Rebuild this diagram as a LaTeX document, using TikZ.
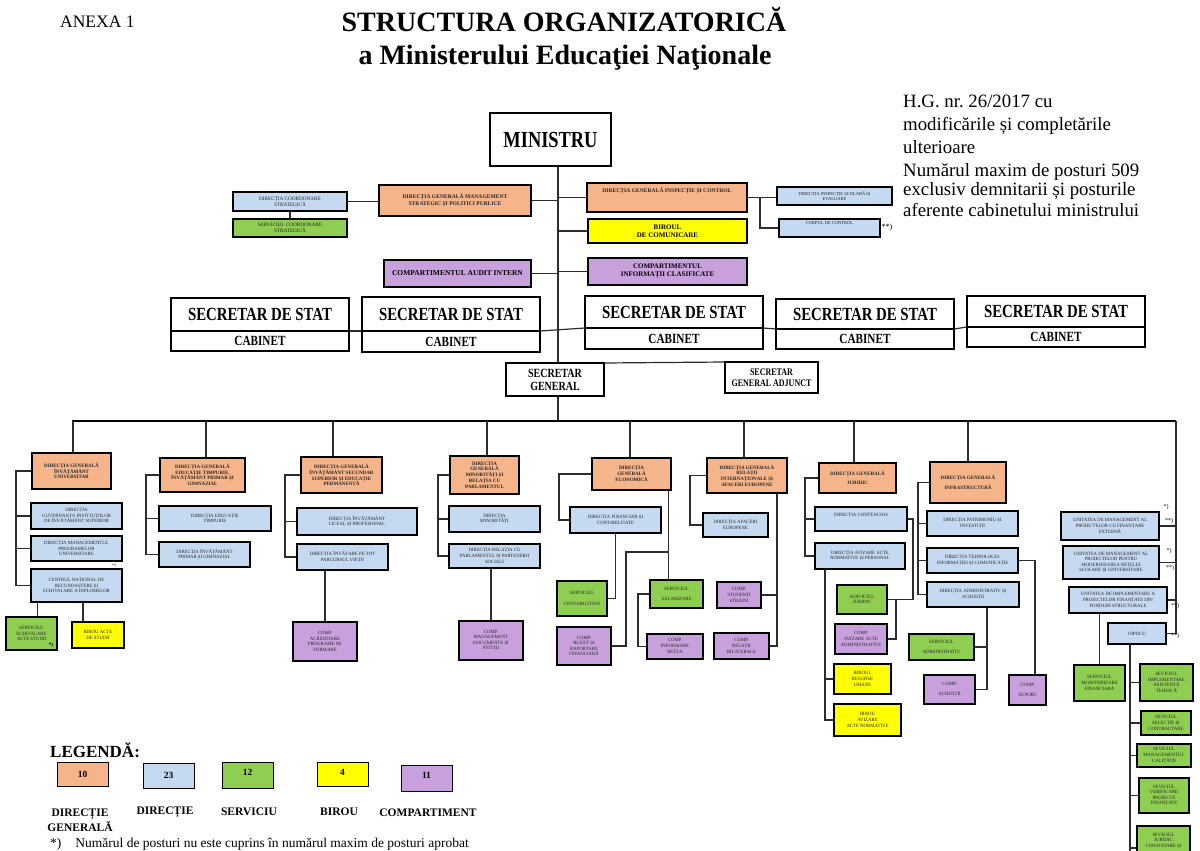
\documentclass[tikz,border=0pt]{standalone}
\usepackage{fontspec}
\setmainfont{Liberation Serif}
\newfontfamily\condf[FakeStretch=0.8]{Liberation Serif}
\usetikzlibrary{backgrounds}
\definecolor{cOr}{RGB}{246,180,138}
\definecolor{cBl}{RGB}{197,217,240}
\definecolor{cGr}{RGB}{142,206,80}
\definecolor{cYe}{RGB}{255,255,0}
\definecolor{cPu}{RGB}{200,160,222}
\definecolor{cLn}{RGB}{45,45,45}
\newcommand\mkbox[7]{\node[#2, minimum width={(#5-#3)*1pt}, minimum height={(#6-#4)*1pt}] (#1) at ({(#3+#5)/2},{(#4+#6)/2}) {#7};}
\tikzset{
 bx/.style={draw=black, line width=1.4pt, inner sep=0pt, outer sep=0pt, align=center, text=black!85},
 dg/.style={bx, fill=cOr, font=\fontsize{5}{5.7}\selectfont\bfseries},
 dgt/.style={bx, fill=cOr, font=\fontsize{5.6}{6.6}\selectfont\bfseries},
 dir/.style={bx, fill=cBl, font=\fontsize{4.8}{5.6}\selectfont},
 dirt/.style={bx, fill=cBl, font=\fontsize{5.2}{6}\selectfont},
 dirs/.style={bx, fill=cBl, font=\fontsize{4.5}{5.3}\selectfont},
 srv/.style={bx, fill=cGr, font=\fontsize{4.8}{5.6}\selectfont},
 srvt/.style={bx, fill=cGr, font=\fontsize{5.2}{6}\selectfont},
 bir/.style={bx, fill=cYe, font=\fontsize{4.8}{5.6}\selectfont},
 birt/.style={bx, fill=cYe, font=\fontsize{7}{8}\selectfont\bfseries, text=black},
 cmp/.style={bx, fill=cPu, font=\fontsize{4.8}{5.6}\selectfont},
 cmpt/.style={bx, fill=cPu, font=\fontsize{7}{8}\selectfont\bfseries, text=black},
 cmpa/.style={bx, fill=cPu, font=\fontsize{7.5}{8}\selectfont\bfseries, text=black},
 minb/.style={bx, line width=2.6pt, fill=white, text=black, font=\condf\bfseries\fontsize{23}{24}\selectfont},
 ssb/.style={bx, line width=1.8pt, fill=white, text=black, font=\condf\bfseries\fontsize{18.5}{19}\selectfont},
 cbb/.style={bx, line width=1.8pt, fill=white, text=black, font=\condf\bfseries\fontsize{14}{14}\selectfont},
 sgb/.style={bx, line width=1.5pt, fill=white, text=black, font=\condf\bfseries\fontsize{12.5}{13}\selectfont},
 sgab/.style={bx, line width=1.5pt, fill=white, text=black, font=\condf\bfseries\fontsize{10}{10.5}\selectfont},
 lgb/.style={bx, line width=1pt, text=black, font=\bfseries\fontsize{9.5}{10}\selectfont},
 lgl/.style={inner sep=0pt, align=center, font=\bfseries\fontsize{11.5}{15}\selectfont},
 mk/.style={inner sep=0pt, font=\fontsize{6}{6}\selectfont},
 ln/.style={draw=cLn, line width=1.2pt},
 bus/.style={draw=black, line width=1.8pt},
}
\begin{document}
\begin{tikzpicture}[x=1pt,y=-1pt]
\useasboundingbox (0,0) rectangle (1200,851);
% ---------- titles ----------
\node[anchor=base west, inner sep=0pt, font=\fontsize{17.5}{18}\selectfont] (anexa) at (60,28) {ANEXA 1};
\node[anchor=base, inner sep=0pt, font=\bfseries\fontsize{28}{30}\selectfont] (title1) at (564,32) {STRUCTURA ORGANIZATORICĂ};
\node[anchor=base, inner sep=0pt, font=\bfseries\fontsize{28}{30}\selectfont] (title2) at (565,65) {a Ministerului Educaţiei Naţionale};
\foreach \nm/\yy/\tx in {n1/107/{H.G. nr.\ 26/2017 cu}, n2/130/{modificările și completările}, n3/153/{ulterioare}, n4/176/{Numărul maxim de posturi 509}, n5/195/{exclusiv demnitarii și posturile}, n6/216/{aferente cabinetului ministrului}}
  \node[anchor=base west, inner sep=0pt, font=\fontsize{18.8}{20}\selectfont] (\nm) at (903,\yy) {\tx};
% ---------- top boxes ----------
\mkbox{min}{minb}{490}{113}{611}{166}{MINISTRU}
\mkbox{dgmspp}{dgt}{379}{185}{531}{216}{DIRECȚIA GENERALĂ MANAGEMENT\\STRATEGIC ȘI POLITICI PUBLICE}
\mkbox{dcs}{dirt}{233}{192}{347}{211}{DIRECȚIA COORDONARE\\STRATEGICĂ}
\mkbox{scs}{srvt}{233}{219}{347}{237}{SERVICIUL COORDONARE\\STRATEGICĂ}
\mkbox{dgic}{dgt}{587}{183}{747}{212}{DIRECȚIA GENERALĂ INSPECȚIE ȘI CONTROL\\[8pt]\mbox{}}
\mkbox{dise}{dirs}{777}{187}{892}{205}{DIRECȚIA INSPECȚIE ȘCOLARĂ ȘI\\EVALUARE}
\mkbox{corp}{dirs}{779}{219}{880}{237}{CORPUL DE CONTROL\\[5pt]\mbox{}}
\node[mk, font=\fontsize{8}{8}\selectfont] (mcorp) at (887,228) {**)};
\mkbox{bcom}{birt}{588}{219}{747}{243}{BIROUL\\DE COMUNICARE}
\mkbox{cic}{cmpt}{588}{258}{747}{285}{COMPARTIMENTUL\\INFORMAȚII CLASIFICATE}
\mkbox{cai}{cmpa}{384}{260}{531}{287}{COMPARTIMENTUL AUDIT INTERN}
% ---------- secretari de stat ----------
\mkbox{ss1}{ssb}{171}{298}{349}{331}{SECRETAR DE STAT}
\mkbox{cb1}{cbb}{171}{331}{349}{351}{CABINET}
\mkbox{ss2}{ssb}{362}{297}{540}{331}{SECRETAR DE STAT}
\mkbox{cb2}{cbb}{362}{331}{540}{352}{CABINET}
\mkbox{ss3}{ssb}{585}{296}{763}{328}{SECRETAR DE STAT}
\mkbox{cb3}{cbb}{585}{328}{763}{349}{CABINET}
\mkbox{ss4}{ssb}{776}{299}{954}{329}{SECRETAR DE STAT}
\mkbox{cb4}{cbb}{776}{329}{954}{349}{CABINET}
\mkbox{ss5}{ssb}{967}{296}{1145}{327}{SECRETAR DE STAT}
\mkbox{cb5}{cbb}{967}{327}{1145}{347}{CABINET}
\mkbox{sg}{sgb}{506}{363}{604}{396}{SECRETAR\\GENERAL}
\mkbox{sga}{sgab}{725}{362}{818}{393}{SECRETAR\\GENERAL ADJUNCT}
% ---------- directii generale ----------
\mkbox{dgiu}{dg}{32}{453}{111}{489}{DIRECȚIA GENERALĂ\\ÎNVĂȚĂMÂNT\\UNIVERSITAR}
\mkbox{dget}{dg}{160}{458}{245}{492}{DIRECȚIA GENERALĂ\\EDUCAȚIE TIMPURIE,\\ÎNVĂȚĂMÂNT PRIMAR ȘI\\GIMNAZIAL}
\mkbox{dgis}{dg}{301}{457}{382}{493}{DIRECȚIA GENERALĂ\\ÎNVĂȚĂMÂNT SECUNDAR\\SUPERIOR ȘI EDUCAȚIE\\PERMANENTĂ}
\mkbox{dgmr}{dg}{450}{456}{519}{494}{DIRECȚIA\\GENERALĂ\\MINORITĂȚI ȘI\\RELAȚIA CU\\PARLAMENTUL}
\mkbox{dge}{dg}{592}{458}{671}{490}{DIRECȚIA\\GENERALĂ\\ECONOMICĂ}
\mkbox{dgri}{dg}{707}{458}{787}{493}{DIRECȚIA GENERALĂ\\RELAȚII\\INTERNAȚIONALE ȘI\\AFACERI EUROPENE}
\mkbox{dgj}{dg}{819}{463}{896}{493}{DIRECȚIA GENERALĂ\\[4pt]JURIDIC}
\mkbox{dginf}{dg}{930}{462}{1006}{503}{DIRECȚIA GENERALĂ\\[5pt]INFRASTRUCTURĂ}
% ---------- directii ----------
\mkbox{dgiis}{dir}{31}{503}{122}{529}{DIRECȚIA\\GUVERNANȚA INSTITUȚIILOR\\DE ÎNVĂȚĂMÂNT SUPERIOR}
\mkbox{dmpu}{dir}{31}{536}{122}{561}{DIRECȚIA MANAGEMENTUL\\PROGRAMELOR\\UNIVERSITARE}
\mkbox{cnred}{dir}{31}{569}{122}{602}{CENTRUL NAȚIONAL DE\\RECUNOAȘTERE ȘI\\ECHIVALARE A DIPLOMELOR}
\node[mk, font=\fontsize{3.5}{3.5}\selectfont] (mcn) at (114,566) {**)};
\mkbox{det}{dir}{159}{506}{271}{531}{DIRECȚIA EDUCAȚIE\\TIMPURIE}
\mkbox{dipg}{dir}{159}{542}{250}{567}{DIRECȚIA ÎNVĂȚĂMÂNT\\PRIMAR ȘI GIMNAZIAL}
\mkbox{dilp}{dir}{297}{508}{417}{535}{DIRECȚIA ÎNVĂȚĂMÂNT\\LICEAL ȘI PROFESIONAL}
\mkbox{ditpv}{dir}{297}{544}{388}{570}{DIRECȚIA ÎNVĂȚARE PE TOT\\PARCURSUL VIEȚII}
\mkbox{dmin}{dir}{449}{506}{540}{532}{DIRECȚIA\\MINORITĂȚI}
\mkbox{drpps}{dir}{449}{544}{540}{568}{DIRECȚIA RELAȚIA CU\\PARLAMENTUL ȘI PARTENERII\\SOCIALI}
\mkbox{dfc}{dir}{570}{507}{661}{533}{DIRECȚIA FINANCIAR ȘI\\CONTABILITATE}
\mkbox{dae}{dir}{703}{513}{768}{537}{DIRECȚIA AFACERI\\EUROPENE}
\mkbox{dc}{dir}{815}{507}{907}{531}{DIRECȚIA CONTENCIOS\\[3pt]\mbox{}}
\mkbox{daanp}{dir}{815}{543}{905}{569}{DIRECȚIA AVIZARE ACTE\\NORMATIVE ȘI PERSONAL}
\mkbox{dpi}{dir}{927}{511}{1018}{536}{DIRECȚIA PATRIMONIU ȘI\\INVESTIȚII}
\mkbox{dtic}{dir}{927}{548}{1018}{573}{DIRECȚIA TEHNOLOGIA\\INFORMAȚIEI ȘI COMUNICAȚIE}
\mkbox{daa}{dir}{927}{582}{1019}{607}{DIRECȚIA ADMINISTRATIV ȘI\\ACHIZIȚII}
\mkbox{umpfe}{dir}{1061}{512}{1159}{540}{UNITATEA DE MANAGEMENT AL\\PROIECTELOR CU FINANȚARE\\EXTERNĂ}
\mkbox{umpm}{dir}{1063}{546}{1159}{579}{UNITATEA DE MANAGEMENT AL\\PROIECTELOR PENTRU\\MODERNIZAREA REȚELEI\\ȘCOLARE ȘI UNIVERSITARE}
\mkbox{uipfs}{dir}{1069}{587}{1167}{613}{UNITATEA DE IMPLEMENTARE A\\PROIECTELOR FINANȚATE DIN\\FONDURI STRUCTURALE}
\mkbox{oipocu}{dir}{1108}{623}{1166}{644}{OIPOCU}
\node[mk] (m1) at (1166,507) {*)};
\node[mk] (m2) at (1169,521) {**)};
\node[mk] (m3) at (1169,551) {*)};
\node[mk] (m4) at (1170,568) {**)};
\node[mk] (m5) at (1175,606) {**)};
\node[mk] (m6) at (1175,636) {**)};
% ---------- servicii ----------
\mkbox{seas}{srv}{6}{617}{57}{650}{SERVICIUL\\ECHIVALARE\\ACTE STUDII}
\node[mk, font=\fontsize{5}{5}\selectfont\bfseries] (mseas) at (51,645) {*)};
\mkbox{scont}{srv}{557}{581}{607}{616}{SERVICIUL\\[5pt]CONTABILITATE}
\mkbox{ssal}{srv}{650}{580}{703}{608}{SERVICIUL\\[5pt]SALARIZARE}
\mkbox{sjur}{srv}{837}{585}{887}{614}{SERVICIUL\\JURIDIC}
\mkbox{sadm}{srv}{909}{634}{974}{660}{SERVICIUL\\[4pt]ADMINISTRATIV}
\mkbox{smf}{srv}{1074}{665}{1125}{701}{SERVICIUL\\MONITORIZARE\\FINANCIARĂ}
\mkbox{siat}{srv}{1140}{664}{1193}{701}{SEVICIUL\\IMPLEMENTARE\\ASISTENȚĂ\\TEHNICĂ}
\mkbox{ssc}{srv}{1141}{711}{1191}{735}{SEVICIUL\\SELECȚIE ȘI\\CONTRACTARE}
\mkbox{smc}{srv}{1137}{744}{1191}{767}{SEVICIUL\\MANAGEMENTUL\\CALITĂȚII}
\mkbox{svpf}{srv}{1139}{778}{1189}{813}{SEVICIUL\\VERIFICARE\\PROIECTE\\FINANȚATE}
\mkbox{sjcs}{srv}{1137}{826}{1190}{870}{SEVICIUL\\JURIDIC\\CONSTATARE ȘI\\[10pt]\mbox{}}
% ---------- birouri ----------
\mkbox{bas}{bir}{72}{622}{124}{648}{BIROU ACTE\\DE STUDII}
\mkbox{bru}{bir}{834}{664}{891}{694}{BIROUL\\RESURSE\\UMANE}
\mkbox{baan}{bir}{834}{704}{901}{736}{BIROU\\AVIZARE\\ACTE NORMATIVE}
% ---------- compartimente ----------
\mkbox{capf}{cmp}{293}{622}{357}{661}{COMP.\\ACREDITARE\\PROGRAME DE\\FORMARE}
\mkbox{cmdp}{cmp}{459}{621}{523}{660}{COMP.\\MANAGEMENT\\DOCUMENTE ȘI\\PETIȚII}
\mkbox{cbrf}{cmp}{557}{627}{611}{665}{COMP.\\BUGET ȘI\\RAPORTARE\\FINANCIARĂ}
\mkbox{cir}{cmp}{647}{634}{703}{659}{COMP.\\INFORMARE\\REȚEA}
\mkbox{css}{cmp}{717}{582}{761}{608}{COMP.\\STUDENȚI\\STRĂINI}
\mkbox{crb}{cmp}{714}{633}{769}{659}{COMP.\\RELAȚII\\BILATERALE}
\mkbox{caaa}{cmp}{835}{624}{887}{654}{COMP.\\AVIZARE ACTE\\ADMINISTRATIVE}
\mkbox{cach}{cmp}{924}{675}{975}{704}{COMP.\\[4pt]ACHIZIȚII}
\mkbox{csup}{cmp}{1009}{675}{1046}{705}{COMP.\\[5pt]SUPORT}
% ---------- legend ----------
\node[anchor=base west, inner sep=0pt, font=\bfseries\fontsize{17}{18}\selectfont] (leg) at (50,757) {LEGENDĂ:};
\mkbox{l1}{lgb, fill=cOr}{57}{762}{108}{786}{10}
\mkbox{l2}{lgb, fill=cBl}{143}{763}{194}{788}{23}
\mkbox{l3}{lgb, fill=cGr}{222}{762}{273}{788}{\raisebox{5pt}{12}}
\mkbox{l4}{lgb, fill=cYe}{317}{762}{368}{786}{\raisebox{4pt}{4}}
\mkbox{l5}{lgb, fill=cPu}{401}{765}{452}{791}{\raisebox{6pt}{11}}
\node[lgl] (t1) at (80,820) {DIRECȚIE\\GENERALĂ};
\node[lgl] (t2) at (165,812) {DIRECȚIE};
\node[lgl] (t3) at (249,812) {SERVICIU};
\node[lgl] (t4) at (339,812) {BIROU};
\node[lgl] (t5) at (428,813) {COMPARTIMENT};
\node[anchor=base west, inner sep=0pt, font=\fontsize{13.5}{14}\selectfont] (fn) at (50,847) {*)\hspace{14pt}Numărul de posturi nu este cuprins în numărul maxim de posturi aprobat};
% ---------- connectors ----------
\coordinate (tk) at (558,0);
\coordinate (rt) at (1176,421);
\begin{pgfonlayer}{background}
\fill[white] (0,0) rectangle (1200,851);
\draw[ln] (min.south -| tk) -- (sg.north -| tk);
\draw[ln] (dgmspp.east) -- (dgmspp.east -| tk);
\draw[ln] (dgic.west) -- (dgic.west -| tk);
\draw[ln] (dcs.east) -- (dgmspp.west |- dcs.east);
\draw[ln] (dcs.south) -- (scs.north);
\draw[ln] (dgic.east) -- (dise.west |- dgic.east);
\coordinate (icb) at ([xshift=13pt]dgic.east);
\draw[ln] (icb) |- (corp.west);
\draw[ln] (bcom.west) -- (bcom.west -| tk);
\draw[ln] (cic.west) -- (cic.west -| tk);
\draw[ln] (cai.east) -- (cai.east -| tk);
\draw[ln] (ss1.south east) -- (ss2.south west);
\draw[ln] (ss2.south east) -- (ss3.south west);
\draw[ln] (ss3.south east) -- (ss4.south west);
\draw[ln] (ss4.south east) -- (ss5.south west);
\draw[ln] (sg.north east) -- (sga.north west);
\draw[ln] (sg.south -| tk) -- (tk |- rt);
\draw[bus] (rt -| 72,0) -- (rt);
\foreach \n/\x in {dgiu/73, dget/206, dgis/333, dgmr/487, dge/630, dgri/744, dgj/854, dginf/968}
  \draw[ln] (\n.north -| \x,0) -- (rt -| \x,0);
\draw[ln] (rt) |- (oipocu.east);
\foreach \n in {umpfe,umpm,uipfs} \draw[ln] (\n.east) -- (\n.east -| rt);
% DGIU
\coordinate (sp1) at ([xshift=-16pt]dgiu.west);
\draw[ln] (dgiu.west) -- (sp1) |- (cnred.west);
\draw[ln] (sp1 |- dgiis.west) -- (dgiis.west);
\draw[ln] (sp1 |- dmpu.west) -- (dmpu.west);
\coordinate (c1) at ([xshift=6pt]seas.north);
\draw[ln] (c1) -- (c1 |- cnred.south);
\coordinate (c2) at ([xshift=-15pt]bas.north);
\draw[ln] (c2) -- (c2 |- cnred.south);
% DGET
\coordinate (sp2) at ([xshift=-14pt]dget.west);
\draw[ln] (dget.west) -- (sp2) |- (dipg.west);
\draw[ln] (sp2 |- det.west) -- (det.west);
% DGIS
\coordinate (sp3) at ([xshift=-16pt]dgis.west);
\draw[ln] (dgis.west) -- (sp3) |- (ditpv.west);
\draw[ln] (sp3 |- dilp.west) -- (dilp.west);
\draw[ln] (capf.north) -- (capf.north |- ditpv.south);
% DGMR
\coordinate (sp4) at ([xshift=-12pt]dgmr.west);
\draw[ln] (dgmr.west) -- (sp4) |- (drpps.west);
\draw[ln] (sp4 |- dmin.west) -- (dmin.west);
\draw[ln] (cmdp.north) -- (cmdp.north |- drpps.south);
% DGE
\coordinate (sp5) at ([xshift=-33pt]dge.west);
\draw[ln] (dge.west) -- (sp5) |- (dfc.west);
\draw[ln] (dfc.south) |- (scont.east);
\coordinate (sl) at ([xshift=-8pt]ssal.north);
\draw[ln] (sl) -- (sl |- dge.south);
\coordinate (bb1) at (sl |- 0,552);
\coordinate (bb2) at (626,552);
\draw[ln] (bb1) -- (bb2) |- (cbrf.east);
\coordinate (sw) at ([xshift=-12pt]ssal.west);
\draw[ln] (ssal.west) -- (sw) |- (cir.west);
% DGRI
\coordinate (sp6) at ([xshift=-17pt]dgri.west);
\draw[ln] (dgri.west) -- (sp6) |- (dae.west);
\coordinate (sp7) at ([xshift=-10pt]dgri.south east);
\draw[ln] (sp7) |- (crb.east);
\draw[ln] (css.east) -- (css.east -| sp7);
% DGJ
\coordinate (sp8) at ([xshift=-14pt]dgj.west);
\draw[ln] (dgj.west) -- (sp8) |- (daanp.west);
\draw[ln] (sp8 |- dc.west) -- (dc.west);
\coordinate (dcr) at ([xshift=6pt]dc.east);
\draw[ln] (dc.east) -- (dcr) |- (sjur.east);
\coordinate (sjr) at ([xshift=9pt]sjur.east);
\draw[ln] (sjr) |- (caaa.east);
\coordinate (sp9) at ([xshift=10pt]daanp.south west);
\draw[ln] (sp9) |- (baan.west);
\draw[ln] (sp9 |- bru.west) -- (bru.west);
% DGINF
\coordinate (sp10) at ([xshift=-12pt]dginf.west);
\draw[ln] (dginf.west) -- (sp10) |- (daa.west);
\draw[ln] (sp10 |- dpi.west) -- (dpi.west);
\draw[ln] (sp10 |- dtic.west) -- (dtic.west);
\coordinate (cst) at ([xshift=7.5pt]csup.north);
\draw[ln] (dtic.east) -| (cst);
\coordinate (sp11) at ([xshift=14pt]daa.south);
\draw[ln] (sp11) |- (cach.east);
\draw[ln] (sp11 |- sadm.east) -- (sadm.east);
% right column
\draw[ln] (smf.north) -- (smf.north |- uipfs.south);
\coordinate (sp12) at ([xshift=-7pt]oipocu.south);
\coordinate (sp12b) at (sp12 |- 0,870);
\draw[ln] (sp12) -- (sp12b);
\foreach \n in {siat,ssc,smc,svpf,sjcs} \draw[ln] (sp12 |- \n.west) -- (\n.west);
\end{pgfonlayer}
\end{tikzpicture}
\end{document}
